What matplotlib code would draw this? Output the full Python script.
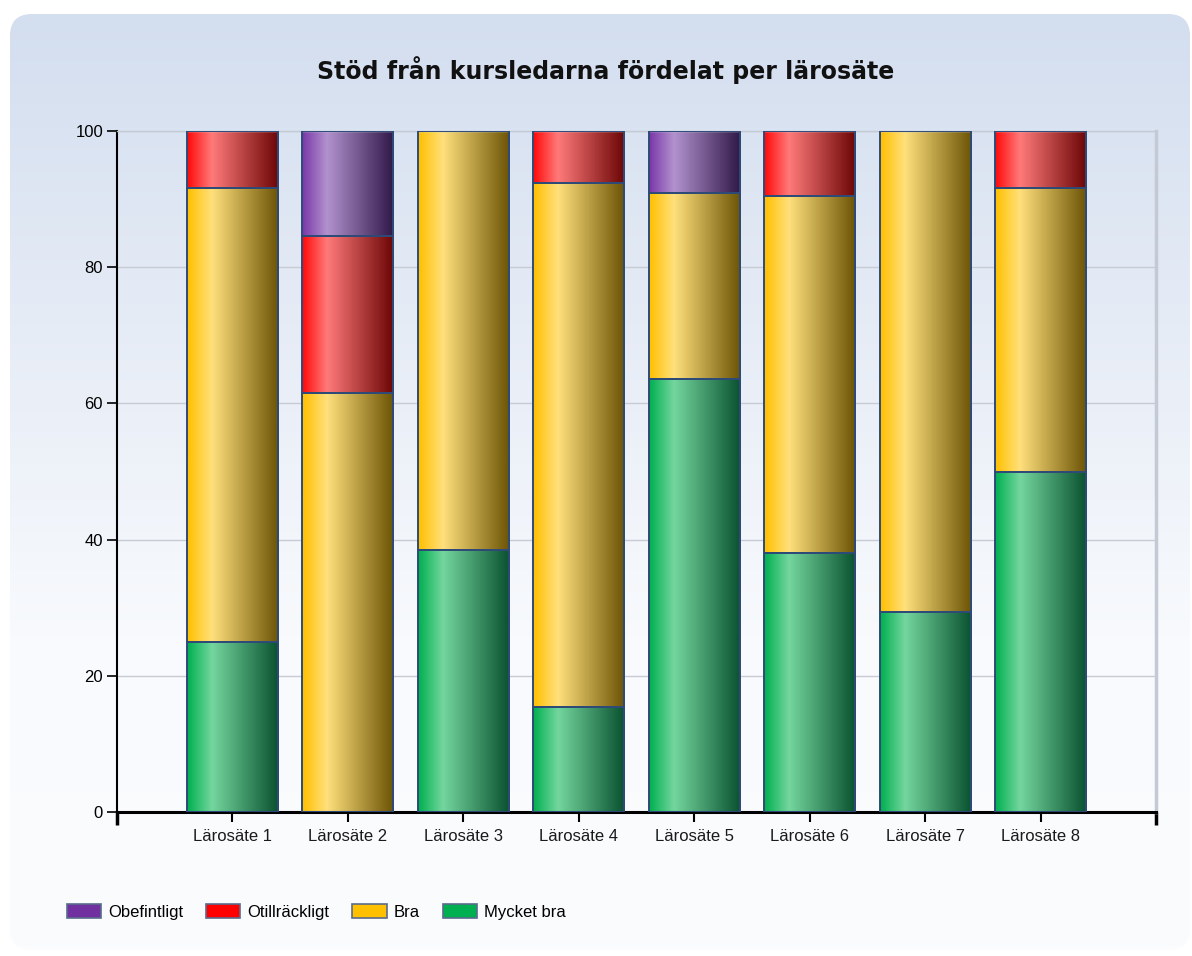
import matplotlib
matplotlib.use("Agg")
import matplotlib.pyplot as plt
import numpy as np
from matplotlib.colors import LinearSegmentedColormap
from matplotlib.patches import FancyBboxPatch, Patch

# data (percent per category)
categories = ['Lärosäte 1', 'Lärosäte 2', 'Lärosäte 3', 'Lärosäte 4',
              'Lärosäte 5', 'Lärosäte 6', 'Lärosäte 7', 'Lärosäte 8']
mycket_bra = [25.0, 0.0, 38.5, 15.4, 63.6, 38.1, 29.4, 50.0]
bra = [66.7, 61.5, 61.5, 76.9, 27.3, 52.4, 70.6, 41.7]
otillrackligt = [8.3, 23.1, 0.0, 7.7, 0.0, 9.5, 0.0, 8.3]
obefintligt = [0.0, 15.4, 0.0, 0.0, 9.1, 0.0, 0.0, 0.0]

series = [
    ('Mycket bra', mycket_bra, '#00B050', ['#00B050', '#74D69E', '#0A5230']),
    ('Bra', bra, '#FFC000', ['#FFC000', '#FFE07C', '#6C5406']),
    ('Otillräckligt', otillrackligt, '#FF0000', ['#FF0A0A', '#FF7A7A', '#6C0606']),
    ('Obefintligt', obefintligt, '#7030A0', ['#7A38A8', '#B292CE', '#301848']),
]

fig = plt.figure(figsize=(11.92, 9.56), dpi=100)
fig.patch.set_facecolor('white')

# background panel with vertical gradient and rounded corners
bg = fig.add_axes([0, 0, 1, 1], zorder=-10)
bg.set_xlim(0, 1192)
bg.set_ylim(956, 0)
bg.axis('off')
panel = FancyBboxPatch((10, 14), 1180, 936, boxstyle='round,pad=0,rounding_size=22',
                       facecolor='none', edgecolor='none')
bg.add_patch(panel)
grad = np.linspace(0, 1, 256).reshape(-1, 1)
bg_cmap = LinearSegmentedColormap.from_list('bg', ['#D3DEEF', '#E6ECF6', '#F8FAFD', '#FBFCFE'])
im = bg.imshow(grad, cmap=bg_cmap, extent=[10, 1190, 950, 14], aspect='auto')
im.set_clip_path(panel)

ax = fig.add_axes([117 / 1192, 1 - 812 / 956, (1156 - 117) / 1192, (812 - 131) / 956])
ax.set_facecolor('none')

x = np.arange(1, len(categories) + 1)
width = 0.79
bottom = np.zeros(len(categories))
xs = np.linspace(0, 1, 120)
for name, vals, solid, stops in series:
    cmap = LinearSegmentedColormap.from_list(name, [(0, stops[0]), (0.27, stops[1]), (1, stops[2])])
    bars = ax.bar(x, vals, width, bottom=bottom, color='none', edgecolor='#2E4A78',
                  linewidth=1.4, zorder=3)
    for b, v in zip(bars, vals):
        if v <= 0:
            b.set_visible(False)
            continue
        x0, y0 = b.get_x(), b.get_y()
        gi = ax.imshow(xs.reshape(1, -1), cmap=cmap, vmin=0, vmax=1,
                       extent=[x0, x0 + b.get_width(), y0, y0 + b.get_height()],
                       aspect='auto', zorder=2, interpolation='bilinear')
        gi.set_clip_path(b)
    bottom += np.array(vals)

ax.set_xlim(0, 9)
ax.set_ylim(0, 100)
ax.set_yticks([0, 20, 40, 60, 80, 100])
ax.set_xticks(x)
ax.set_xticks([0, 9], minor=True)
ax.set_xticklabels(categories, fontsize=12, family='Liberation Sans', color='#1A1A1A')
ax.tick_params(axis='y', labelsize=12, length=7, width=1.2, colors='black', pad=3)
ax.tick_params(axis='x', which='major', length=7, width=1.5, direction='out', pad=5)
ax.tick_params(axis='x', which='minor', length=9, width=2.5, direction='out')
for lab in ax.get_yticklabels():
    lab.set_family('Liberation Sans')
ax.grid(axis='y', color='#C6CBD4', linewidth=1, zorder=0)
ax.set_axisbelow(True)
ax.spines['left'].set_color('black')
ax.spines['left'].set_linewidth(1.5)
ax.spines['bottom'].set_color('black')
ax.spines['bottom'].set_linewidth(2.2)
ax.spines['top'].set_color('#C4CAD4')
ax.spines['top'].set_linewidth(1)
ax.spines['right'].set_color('#C4CAD4')
ax.spines['right'].set_linewidth(2.5)

fig.text(606 / 1192, 1 - 70 / 956, 'Stöd från kursledarna fördelat per lärosäte',
         ha='center', va='center', fontsize=17, fontweight='bold', color='#111111')

handles = [Patch(facecolor=s[2], edgecolor='#5A6B8C', linewidth=1.2, label=s[0])
           for s in reversed(series)]
leg = fig.legend(handles=handles, loc='center left', bbox_to_anchor=(52 / 1192, 1 - 912 / 956),
                 ncol=4, frameon=False, handlelength=2.05, handleheight=0.85,
                 columnspacing=1.4, handletextpad=0.4, prop={'family': 'Liberation Sans', 'size': 12})

fig.savefig('out.png', dpi=100)
